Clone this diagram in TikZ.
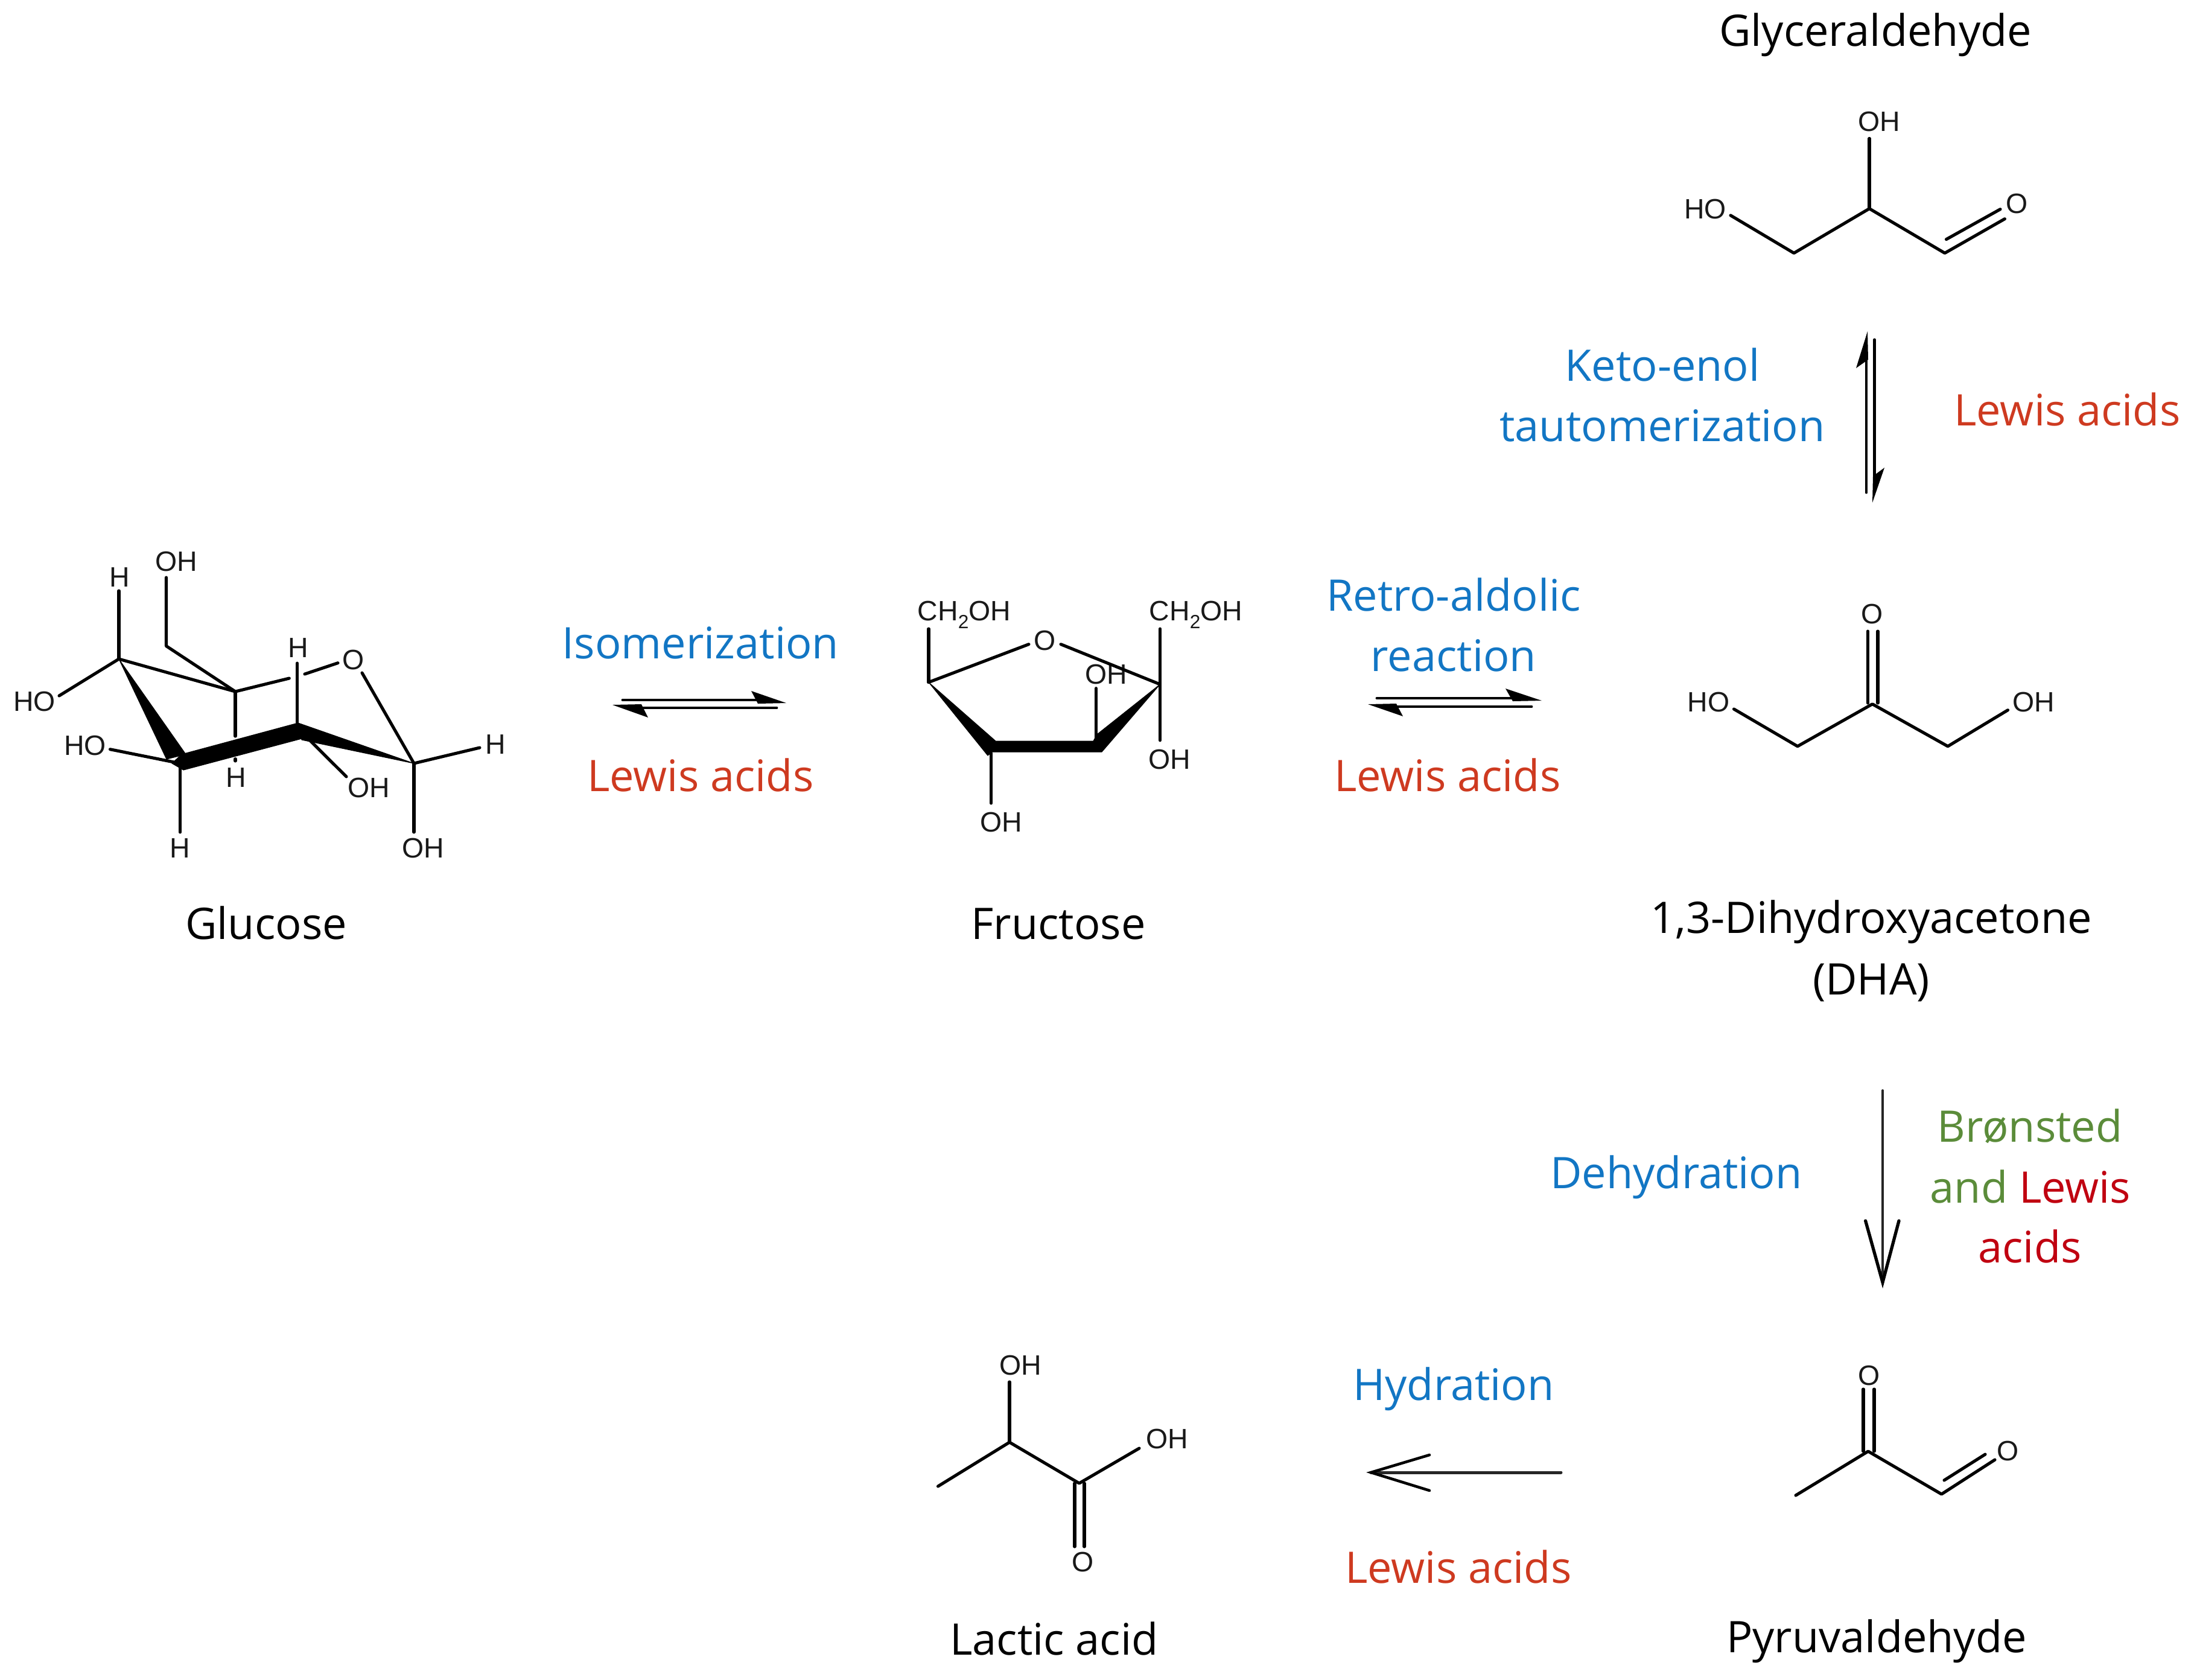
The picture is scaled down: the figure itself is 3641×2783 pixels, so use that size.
\documentclass[tikz,border=0pt]{standalone}
\usepackage{fontspec}
\setmainfont{Open Sans}
\newfontfamily\atomfont{Liberation Sans}
\definecolor{stepblue}{HTML}{1276C4}
\definecolor{catred}{HTML}{CE3A20}
\definecolor{deepred}{HTML}{C00010}
\definecolor{catgreen}{HTML}{5B8C3A}
\tikzset{
  lab/.style={inner sep=0pt,font=\fontsize{20.5}{22}\selectfont,text height=15pt,text depth=4pt},
  stage/.style={lab,text=stepblue},
  cat/.style={lab,text=catred},
  atom/.style={inner sep=0pt,font=\atomfont\fontsize{13.2}{14}\selectfont,text=black!90},
  bond/.style={draw=black,line width=1.45pt,line cap=round,line join=round},
  wedge/.style={fill=black,draw=black,line width=0.3pt,line join=round},
  arrowline/.style={draw=black,line width=1.4pt,line cap=round,line join=round},
  thinarrow/.style={draw=black!85,line width=1.1pt,line cap=round},
  barbs/.style={draw=black,line width=1.5pt,line cap=round,line join=miter},
}
\newcommand{\chtwooh}{CH\raisebox{-0.28em}{\fontsize{9}{9}\selectfont 2}OH}
\begin{document}
\begin{tikzpicture}[x=0.01cm,y=-0.01cm]
\useasboundingbox (0,0) rectangle (3641,2783);
% ---------- captions
\node[lab] (nGly) at (3108,57) {Glyceraldehyde};
\node[stage] (nKeto) at (2755,612) {Keto-enol};
\node[stage] (nTaut) at (2755,712) {tautomerization};
\node[cat] (nLa1) at (3426,686) {Lewis acids};
\node[stage] (nIso) at (1161,1072) {Isomerization};
\node[cat] (nLa2) at (1161,1292) {Lewis acids};
\node[stage] (nRetro) at (2409,993) {Retro-aldolic};
\node[stage] (nReac) at (2409,1093) {reaction};
\node[cat] (nLa3) at (2399,1292) {Lewis acids};
\node[lab] (nGlu) at (441,1537) {Glucose};
\node[lab] (nFru) at (1754,1537) {Fructose};
\node[lab] (nDha) at (3101,1527) {1,3-Dihydroxyacetone};
\node[lab] (nDha2) at (3101,1629) {(DHA)};
\node[stage] (nDeh) at (2778,1950) {Dehydration};
\node[lab,text=catgreen] (nBr) at (3364,1873) {Brønsted};
\node[lab] (nAnd) at (3365,1974) {\textcolor{catgreen}{and} \textcolor{deepred}{Lewis}};
\node[lab,text=deepred] (nAc) at (3364,2073) {acids};
\node[stage] (nHyd) at (2409,2301) {Hydration};
\node[cat] (nLa4) at (2417,2604) {Lewis acids};
\node[lab] (nLac) at (1747,2723) {Lactic acid};
\node[lab] (nPyr) at (3110,2719) {Pyruvaldehyde};
% ---------- glucose
\coordinate (g1) at (197,1092);
\coordinate (g2) at (390,1146);
\coordinate (g3) at (492.5,1206);
\coordinate (g4) at (298.5,1265);
\coordinate (g5) at (686,1265);
\coordinate (g6) at (275.5,1070.5);
\coordinate (g7) at (275.5,957);
\coordinate (g8) at (197,979);
\coordinate (g9) at (98,1153);
\coordinate (g10) at (182.5,1241.7);
\coordinate (g11) at (298.5,1379);
\coordinate (g12) at (390,1220);
\coordinate (g13) at (390,1257.5);
\coordinate (g14) at (390,1261);
\coordinate (g15) at (492.5,1099);
\coordinate (g16) at (479.3,1124);
\coordinate (g17) at (505,1117);
\coordinate (g18) at (560,1098.6);
\coordinate (g19) at (600,1115);
\coordinate (g20) at (795,1239);
\coordinate (g21) at (686,1379);
\coordinate (g22) at (574,1287);
\node[atom] (gOH1) at (292,930.6) {OH};
\node[atom] (gH1) at (198,957) {H};
\node[atom] (gHO1) at (57,1162.6) {HO};
\node[atom] (gHO2) at (141,1235.7) {HO};
\node[atom] (gH2) at (298.5,1405.7) {H};
\node[atom] (gH3) at (391.5,1289) {H};
\node[atom] (gH4) at (494,1073.7) {H};
\node[atom] (gO) at (585.5,1093.4) {O};
\node[atom] (gH5) at (821,1234) {H};
\node[atom] (gOH2) at (701.5,1405.7) {OH};
\node[atom] (gOH3) at (611,1305) {OH};
\draw[bond] (g2)--(g6)--(g7);
\draw[bond] (g1)--(g2);
\draw[bond] (g1)--(g8);
\draw[bond] (g1)--(g9);
\draw[bond] (g4)--(g10);
\draw[bond] (g4)--(g11);
\draw[bond] (g2)--(g12);
\draw[bond] (g13)--(g14);
\draw[bond] (g3)--(g15);
\draw[bond] (g2)--(g16);
\draw[bond] (g17)--(g18);
\draw[bond] (g19)--(g5);
\draw[bond] (g5)--(g20);
\draw[bond] (g5)--(g21);
\draw[bond] (g3)--(g22);
\fill[wedge] (g1)--(308,1250)--(276,1258)--cycle;
\fill[wedge] (301,1250)--(494,1198)--(500,1224)--(304,1276)--(285,1265)--cycle;
\fill[wedge] (494,1198)--(g5)--(500,1226)--cycle;
% ---------- fructose
\coordinate (f1) at (1539,1130.6);
\coordinate (f2) at (1539,1042);
\coordinate (f3) at (1705,1067.6);
\coordinate (f4) at (1758,1067.6);
\coordinate (f5) at (1922.5,1134);
\coordinate (f6) at (1922.5,1042);
\coordinate (f7) at (1922.5,1226.8);
\coordinate (f8) at (1816.5,1140.6);
\coordinate (f9) at (1816.5,1222);
\coordinate (f10) at (1642.6,1248);
\coordinate (f11) at (1642.6,1331);
\node[atom] (fA) at (1598,1019) {\chtwooh};
\node[atom] (fB) at (1982,1019) {\chtwooh};
\node[atom] (fO) at (1731.5,1061) {O};
\node[atom] (fC) at (1833.5,1117) {OH};
\node[atom] (fD) at (1938,1258) {OH};
\node[atom] (fE) at (1659.6,1362) {OH};
\draw[bond] (f1)--(f2);
\draw[bond] (f1)--(f3);
\draw[bond] (f4)--(f5);
\draw[bond] (f6)--(f7);
\draw[bond] (f8)--(f9);
\draw[bond] (f10)--(f11);
\fill[wedge] (f1)--(1650,1228)--(1812,1228)--(1818,1217)--(f5)--(1826,1246)--(1644,1246)--(1637,1252)--cycle;
% ---------- glyceraldehyde
\coordinate (a1) at (3098,229.4);
\coordinate (a2) at (3098,345.7);
\coordinate (a3) at (2868,356.9);
\coordinate (a4) at (2973,419.4);
\coordinate (a5) at (3223,419.4);
\coordinate (a6) at (3322.4,362.7);
\coordinate (a7) at (3225.5,396.6);
\coordinate (a8) at (3315,346.7);
\node[atom] (aOH) at (3114,201.7) {OH};
\node[atom] (aHO) at (2826,346.7) {HO};
\node[atom] (aO) at (3343,337.5) {O};
\draw[bond] (a1)--(a2);
\draw[bond] (a3)--(a4)--(a2)--(a5)--(a6);
\draw[bond] (a7)--(a8);
% ---------- DHA
\coordinate (d1) at (3095.4,1046);
\coordinate (d2) at (3095.4,1165);
\coordinate (d3) at (3112,1046);
\coordinate (d4) at (3112,1165);
\coordinate (d5) at (3103,1166.7);
\coordinate (d6) at (2979,1236.7);
\coordinate (d7) at (2873.5,1175);
\coordinate (d8) at (3228,1236.7);
\coordinate (d9) at (3327.5,1176.7);
\node[atom] (dO) at (3103,1017) {O};
\node[atom] (dHO) at (2831.6,1163) {HO};
\node[atom] (dOH) at (3370,1163) {OH};
\draw[bond] (d1)--(d2);
\draw[bond] (d3)--(d4);
\draw[bond] (d7)--(d6)--(d5)--(d8)--(d9);
% ---------- lactic acid
\coordinate (l1) at (1673,2290);
\coordinate (l2) at (1673,2390);
\coordinate (l3) at (1554.5,2463);
\coordinate (l4) at (1788.5,2458);
\coordinate (l5) at (1888,2400);
\coordinate (l6) at (1781,2458);
\coordinate (l7) at (1781,2563);
\coordinate (l8) at (1797,2458);
\coordinate (l9) at (1797,2563);
\node[atom] (lOH) at (1691.5,2262) {OH};
\node[atom] (lOHb) at (1934,2384) {OH};
\node[atom] (lO) at (1794.5,2588) {O};
\draw[bond] (l1)--(l2);
\draw[bond] (l3)--(l2)--(l4)--(l5);
\draw[bond] (l6)--(l7);
\draw[bond] (l8)--(l9);
% ---------- pyruvaldehyde
\coordinate (p1) at (3096,2405);
\coordinate (p2) at (2976,2478);
\coordinate (p3) at (3088,2405);
\coordinate (p4) at (3088,2302);
\coordinate (p5) at (3106,2405);
\coordinate (p6) at (3106,2302);
\coordinate (p7) at (3217.6,2476);
\coordinate (p8) at (3306,2419);
\coordinate (p9) at (3222,2453);
\coordinate (p10) at (3290,2410);
\node[atom] (pO) at (3097.5,2279) {O};
\node[atom] (pOb) at (3328,2404) {O};
\draw[bond] (p2)--(p1)--(p7)--(p8);
\draw[bond] (p3)--(p4);
\draw[bond] (p5)--(p6);
\draw[bond] (p9)--(p10);
% ---------- equilibrium arrows
\coordinate (e1a) at (1032,1160);
\coordinate (e1b) at (1270,1160);
\coordinate (e1c) at (1287,1173);
\coordinate (e1d) at (1050,1173);
\draw[arrowline] (e1a)--(e1b);
\fill (1245,1145)--(1303,1165)--(1256,1166)--cycle;
\draw[arrowline] (e1c)--(e1d);
\fill (1015,1168)--(1074,1189)--(1063,1167)--cycle;
\coordinate (e2a) at (2282,1157);
\coordinate (e2b) at (2520,1157);
\coordinate (e2c) at (2538,1171);
\coordinate (e2d) at (2300,1171);
\draw[arrowline] (e2a)--(e2b);
\fill (2495,1141)--(2555,1161)--(2507,1162)--cycle;
\draw[arrowline] (e2c)--(e2d);
\fill (2267,1167)--(2325,1187)--(2314,1166)--cycle;
\coordinate (e3a) at (3093,816);
\coordinate (e3b) at (3093,590);
\coordinate (e3c) at (3106.6,563);
\coordinate (e3d) at (3106.6,795);
\draw[arrowline] (e3a)--(e3b);
\fill (3095,549)--(3076,610)--(3096,596)--cycle;
\draw[arrowline] (e3c)--(e3d);
\fill (3103,833)--(3123,775)--(3104,789)--cycle;
% ---------- open arrows
\coordinate (o1a) at (3120,1807);
\coordinate (o1b) at (3120,2125);
\coordinate (o1c) at (3091.6,2023);
\coordinate (o1d) at (3147,2023);
\draw[thinarrow] (o1a)--(o1b);
\draw[barbs] (o1c)--(o1b)--(o1d);
\coordinate (o2a) at (2587,2440);
\coordinate (o2b) at (2272,2440);
\coordinate (o2c) at (2369,2411);
\coordinate (o2d) at (2369,2470);
\draw[thinarrow,line width=1.4pt] (o2a)--(o2b);
\draw[barbs,line width=1.3pt] (o2c)--(o2b)--(o2d);
\end{tikzpicture}
\end{document}
